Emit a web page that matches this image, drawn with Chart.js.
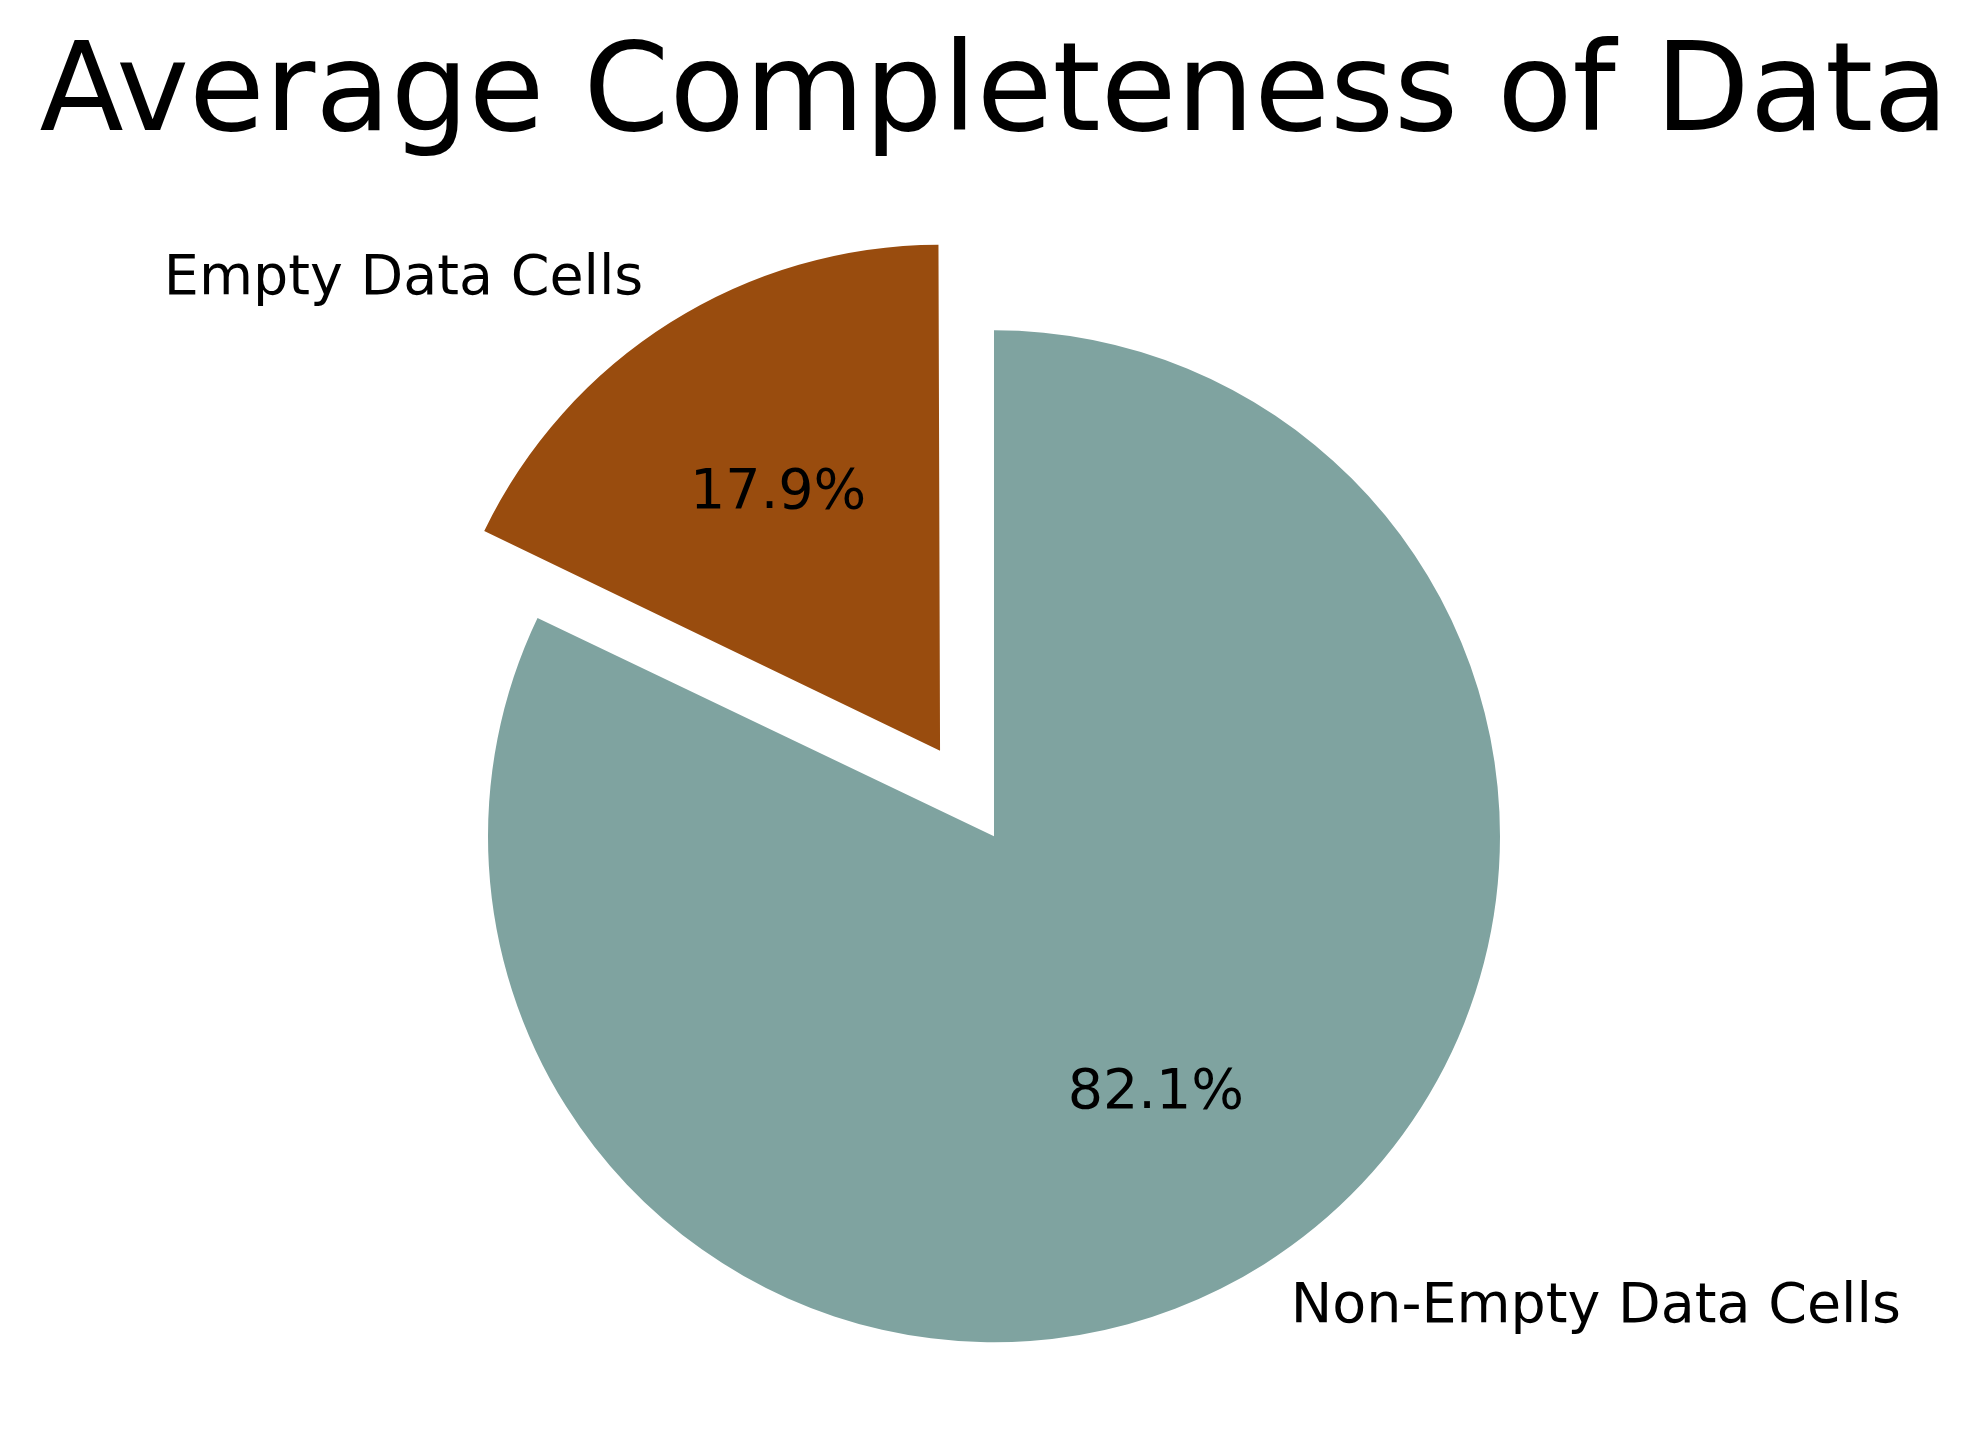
<!DOCTYPE html>
<html lang="en">
<head>
    <meta charset="UTF-8">
    <title>Average Completeness of Data</title>
    <script src="https://cdn.jsdelivr.net/npm/chart.js"></script>
    <style>
        body {
            margin: 0;
            padding: 0;
            background: #fff;
        }

        .chart-box {
            width: 1985px;
            height: 1437px;
        }
    </style>
</head>
<body>
    <div class="chart-box">
        <canvas id="pieChart"></canvas>
    </div>

    <script>
        // data (drawn clockwise from the top, so the empty slice comes last)
        const categories = ['Non-Empty Data Cells', 'Empty Data Cells'];
        const shares = [82.1, 17.9];
        const sliceColors = ['#7fa3a0', '#994c0e'];
        const explode = [0, 0.2];   // fraction of the radius

        const pieRadius = 506;
        const fontFamily = "'DejaVu Sans', sans-serif";

        // chart.js moves an arc by offset/4 and also widens it a little, so undo the widening
        const fixRadius = {
            id: 'fixRadius',
            beforeDatasetsDraw(chart) {
                chart.getDatasetMeta(0).data.forEach((arc, i) => {
                    const shift = explode[i] * pieRadius;
                    const circ = arc.endAngle - arc.startAngle;
                    const fix = 1 - Math.sin(Math.min(Math.PI, circ));
                    arc.outerRadius = pieRadius - shift * fix;
                });
            }
        };

        // matplotlib style labels: name at 1.1 r, percent at 0.6 r
        const pieLabels = {
            id: 'pieLabels',
            afterDatasetsDraw(chart) {
                const ctx = chart.ctx;
                const total = shares.reduce((a, b) => a + b, 0);
                ctx.save();
                ctx.fillStyle = '#000';
                ctx.font = '55.5px ' + fontFamily;
                ctx.textBaseline = 'middle';
                chart.getDatasetMeta(0).data.forEach((arc, i) => {
                    const mid = (arc.startAngle + arc.endAngle) / 2;
                    const cx = arc.x + Math.cos(mid) * explode[i] * pieRadius;
                    const cy = arc.y + Math.sin(mid) * explode[i] * pieRadius;

                    ctx.textAlign = Math.cos(mid) < 0 ? 'right' : 'left';
                    ctx.fillText(categories[i],
                        cx + Math.cos(mid) * 1.1 * pieRadius,
                        cy + Math.sin(mid) * 1.1 * pieRadius);

                    ctx.textAlign = 'center';
                    ctx.fillText((shares[i] / total * 100).toFixed(1) + '%',
                        cx + Math.cos(mid) * 0.6 * pieRadius,
                        cy + Math.sin(mid) * 0.6 * pieRadius);
                });
                ctx.restore();
            }
        };

        new Chart(document.getElementById('pieChart'), {
            type: 'pie',
            data: {
                labels: categories,
                datasets: [{
                    data: shares,
                    backgroundColor: sliceColors,
                    borderWidth: 0,
                    offset: explode.map(e => e * pieRadius * 4),
                    hoverOffset: 0
                }]
            },
            options: {
                responsive: true,
                maintainAspectRatio: false,
                devicePixelRatio: 1,
                animation: false,
                radius: pieRadius,
                rotation: 0,
                layout: { padding: { left: 3, right: 0, top: 0, bottom: 6 } },
                plugins: {
                    legend: { display: false },
                    tooltip: { enabled: false },
                    title: {
                        display: true,
                        text: 'Average Completeness of Data',
                        color: '#000',
                        font: { family: fontFamily, size: 123, weight: 'normal', lineHeight: 1.2 },
                        padding: { top: 24, bottom: 70 }
                    }
                }
            },
            plugins: [fixRadius, pieLabels]
        });
    </script>
</body>
</html>
